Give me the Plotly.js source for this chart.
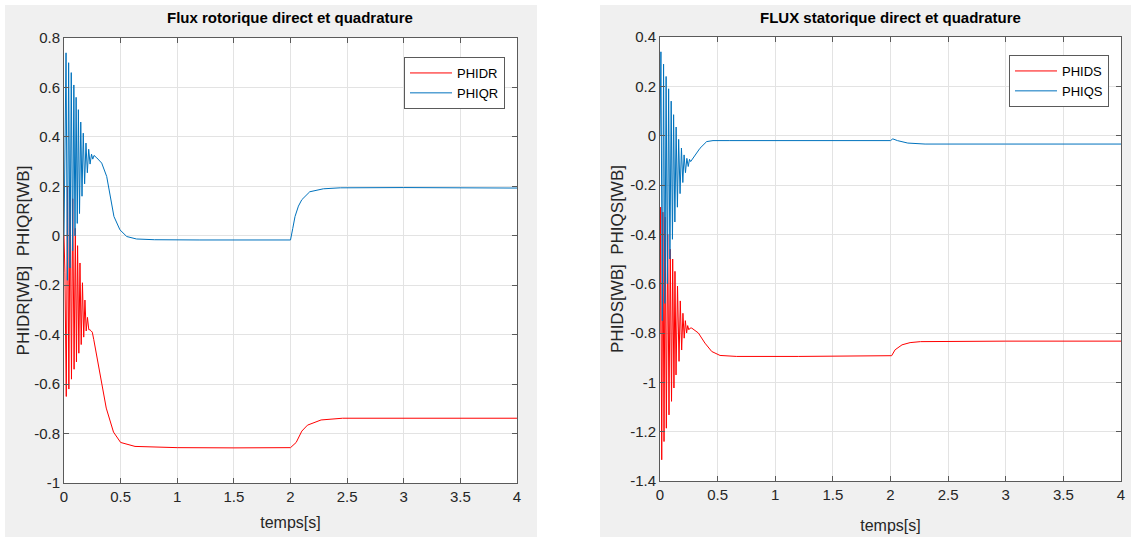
<!DOCTYPE html>
<html>
<head>
<meta charset="utf-8">
<script src="https://cdn.plot.ly/plotly-3.0.1.min.js"></script>
<style>html,body{margin:0;padding:0;background:#fff;}#chart{width:1131px;height:537px;}</style>
</head>
<body>
<div id="chart"></div>
<script>
// ---------- data ----------
// Left panel: rotor flux
const tPHIDR = [0, 0.008, 0.020, 0.031, 0.043, 0.054, 0.066, 0.077, 0.089, 0.100, 0.110, 0.120, 0.131, 0.141, 0.152, 0.163, 0.174, 0.185, 0.196, 0.207, 0.219, 0.229, 0.240, 0.250, 0.263, 0.310, 0.373, 0.437, 0.500, 0.627, 1.0, 1.5, 2.0, 2.05, 2.10, 2.15, 2.27, 2.46, 3.0, 3.5, 4.0];
const vPHIDR = [0, -0.15, -0.65, 0.20, -0.62, 0.20, -0.58, 0.15, -0.54, 0.03, -0.51, -0.04, -0.475, -0.11, -0.44, -0.19, -0.41, -0.26, -0.385, -0.33, -0.38, -0.38, -0.385, -0.39, -0.42, -0.543, -0.697, -0.794, -0.836, -0.852, -0.857, -0.858, -0.857, -0.836, -0.790, -0.766, -0.745, -0.738, -0.738, -0.739, -0.738];
const tPHIQR = [0, 0.018, 0.030, 0.041, 0.053, 0.064, 0.076, 0.087, 0.097, 0.107, 0.117, 0.127, 0.137, 0.148, 0.159, 0.170, 0.182, 0.194, 0.206, 0.218, 0.230, 0.243, 0.254, 0.265, 0.290, 0.333, 0.377, 0.406, 0.441, 0.494, 0.554, 0.640, 0.8, 1.2, 1.6, 2.0, 2.02, 2.04, 2.07, 2.10, 2.17, 2.29, 2.44, 3.0, 4.0];
const vPHIQR = [0, 0.74, -0.18, 0.70, -0.13, 0.66, -0.06, 0.61, 0.0, 0.56, 0.05, 0.51, 0.09, 0.46, 0.16, 0.415, 0.21, 0.375, 0.255, 0.35, 0.29, 0.33, 0.31, 0.325, 0.315, 0.294, 0.24, 0.16, 0.078, 0.024, -0.003, -0.013, -0.016, -0.017, -0.016, -0.017, 0.03, 0.078, 0.12, 0.146, 0.178, 0.19, 0.194, 0.195, 0.193];

// Right panel: stator flux
const tPHIDS = [0, 0.005, 0.015, 0.025, 0.035, 0.045, 0.055, 0.067, 0.078, 0.089, 0.100, 0.110, 0.121, 0.130, 0.139, 0.152, 0.165, 0.176, 0.188, 0.199, 0.210, 0.220, 0.231, 0.240, 0.250, 0.262, 0.275, 0.333, 0.390, 0.449, 0.521, 0.665, 1.2, 2.0, 2.01, 2.04, 2.10, 2.17, 2.26, 3.0, 4.0];
const vPHIDS = [-0.8, -0.29, -1.314, -0.31, -1.24, -0.33, -1.186, -0.40, -1.132, -0.46, -1.077, -0.50, -1.023, -0.55, -0.97, -0.61, -0.915, -0.67, -0.869, -0.72, -0.821, -0.75, -0.80, -0.77, -0.787, -0.78, -0.78, -0.80, -0.841, -0.875, -0.891, -0.895, -0.895, -0.895, -0.892, -0.868, -0.848, -0.839, -0.835, -0.833, -0.833];
const tPHIQS = [0, 0.008, 0.020, 0.031, 0.042, 0.053, 0.064, 0.075, 0.086, 0.097, 0.108, 0.118, 0.129, 0.140, 0.151, 0.162, 0.174, 0.186, 0.198, 0.209, 0.221, 0.233, 0.245, 0.256, 0.266, 0.290, 0.347, 0.405, 0.460, 0.6, 1.2, 2.0, 2.02, 2.06, 2.15, 2.30, 3.0, 4.0];
const vPHIQS = [0, 0.34, -0.75, 0.29, -0.68, 0.24, -0.60, 0.19, -0.50, 0.14, -0.42, 0.085, -0.35, 0.035, -0.29, -0.015, -0.235, -0.05, -0.19, -0.078, -0.15, -0.092, -0.125, -0.096, -0.105, -0.09, -0.051, -0.024, -0.02, -0.02, -0.02, -0.02, -0.013, -0.02, -0.03, -0.034, -0.034, -0.034];

// Tick labels
const xTicks = [0, 0.5, 1, 1.5, 2, 2.5, 3, 3.5, 4];
const xTickText = ["0", "0.5", "1", "1.5", "2", "2.5", "3", "3.5", "4"];
const yTicksL = [-1, -0.8, -0.6, -0.4, -0.2, 0, 0.2, 0.4, 0.6, 0.8];
const yTickTextL = ["-1", "-0.8", "-0.6", "-0.4", "-0.2", "0", "0.2", "0.4", "0.6", "0.8"];
const yTicksR = [-1.4, -1.2, -1, -0.8, -0.6, -0.4, -0.2, 0, 0.2, 0.4];
const yTickTextR = ["-1.4", "-1.2", "-1", "-0.8", "-0.6", "-0.4", "-0.2", "0", "0.2", "0.4"];

// ---------- figure ----------
const W = 1131, H = 537;
const RED = '#ff0000', BLUE = '#0072bd';
const FONT = 'Liberation Sans, Arial, sans-serif';

const traces = [
  {x: tPHIDR, y: vPHIDR, type: 'scatter', mode: 'lines', name: 'PHIDR', line: {color: RED, width: 1}, xaxis: 'x', yaxis: 'y', legend: 'legend'},
  {x: tPHIQR, y: vPHIQR, type: 'scatter', mode: 'lines', name: 'PHIQR', line: {color: BLUE, width: 1}, xaxis: 'x', yaxis: 'y', legend: 'legend'},
  {x: tPHIDS, y: vPHIDS, type: 'scatter', mode: 'lines', name: 'PHIDS', line: {color: RED, width: 1}, xaxis: 'x2', yaxis: 'y2', legend: 'legend2'},
  {x: tPHIQS, y: vPHIQS, type: 'scatter', mode: 'lines', name: 'PHIQS', line: {color: BLUE, width: 1}, xaxis: 'x2', yaxis: 'y2', legend: 'legend2'}
];

function px(x) { return x / W; }
function py(y) { return 1 - y / H; }

const axisCommon = {
  showline: true, mirror: 'ticks', linecolor: '#5a5a5a', linewidth: 1,
  ticks: 'inside', ticklen: 5, tickcolor: '#5a5a5a',
  showgrid: true, gridcolor: '#e3e3e3', gridwidth: 1,
  zeroline: false, tickfont: {family: FONT, size: 15, color: '#262626'},
  tickmode: 'array', automargin: false, fixedrange: true
};

const layout = {
  width: W, height: H,
  margin: {l: 0, r: 0, t: 0, b: 0},
  paper_bgcolor: '#ffffff', plot_bgcolor: '#ffffff',
  showlegend: true,
  xaxis: Object.assign({}, axisCommon, {domain: [px(64), px(517)], range: [0, 4], tickvals: xTicks, ticktext: xTickText, anchor: 'y',
    title: {text: 'temps[s]', font: {family: FONT, size: 16, color: '#262626'}, standoff: 12}}),
  yaxis: Object.assign({}, axisCommon, {domain: [py(483), py(38)], range: [-1, 0.8], tickvals: yTicksL, ticktext: yTickTextL, anchor: 'x',
    title: {text: 'PHIDR[WB]  PHIQR[WB]', font: {family: FONT, size: 17, color: '#262626'}, standoff: 0}}),
  xaxis2: Object.assign({}, axisCommon, {domain: [px(660), px(1121)], range: [0, 4], tickvals: xTicks, ticktext: xTickText, anchor: 'y2',
    title: {text: 'temps[s]', font: {family: FONT, size: 16, color: '#262626'}, standoff: 17}}),
  yaxis2: Object.assign({}, axisCommon, {domain: [py(481), py(37)], range: [-1.4, 0.4], tickvals: yTicksR, ticktext: yTickTextR, anchor: 'x2',
    title: {text: 'PHIDS[WB]  PHIQS[WB]', font: {family: FONT, size: 17, color: '#262626'}, standoff: 2}}),
  legend: {x: px(505), y: py(57), xanchor: 'right', yanchor: 'top', bgcolor: '#ffffff', bordercolor: '#5a5a5a', borderwidth: 1,
    font: {family: FONT, size: 13, color: '#000'}, itemwidth: 42, tracegroupgap: 0},
  legend2: {x: px(1109), y: py(55), xanchor: 'right', yanchor: 'top', bgcolor: '#ffffff', bordercolor: '#5a5a5a', borderwidth: 1,
    font: {family: FONT, size: 13, color: '#000'}, itemwidth: 42, tracegroupgap: 0},
  annotations: [
    {text: '<b>Flux rotorique direct et quadrature</b>', xref: 'paper', yref: 'paper', x: px(290), y: py(17), xanchor: 'center', yanchor: 'middle', showarrow: false,
      font: {family: FONT, size: 15, color: '#000'}},
    {text: '<b>FLUX statorique direct et quadrature</b>', xref: 'paper', yref: 'paper', x: px(890), y: py(17), xanchor: 'center', yanchor: 'middle', showarrow: false,
      font: {family: FONT, size: 15, color: '#000'}}
  ],
  shapes: [
    {type: 'rect', xref: 'paper', yref: 'paper', x0: px(5), x1: px(537), y0: 0, y1: py(5), fillcolor: '#f0f0f0', line: {width: 0}, layer: 'below'},
    {type: 'rect', xref: 'paper', yref: 'paper', x0: px(600), x1: 1, y0: 0, y1: py(5), fillcolor: '#f0f0f0', line: {width: 0}, layer: 'below'},
    {type: 'rect', xref: 'paper', yref: 'paper', x0: px(64), x1: px(517), y0: py(483), y1: py(38), fillcolor: '#ffffff', line: {width: 0}, layer: 'below'},
    {type: 'rect', xref: 'paper', yref: 'paper', x0: px(660), x1: px(1121), y0: py(481), y1: py(37), fillcolor: '#ffffff', line: {width: 0}, layer: 'below'}
  ]
};

Plotly.newPlot('chart', traces, layout, {staticPlot: true, displayModeBar: false});
</script>
</body>
</html>
